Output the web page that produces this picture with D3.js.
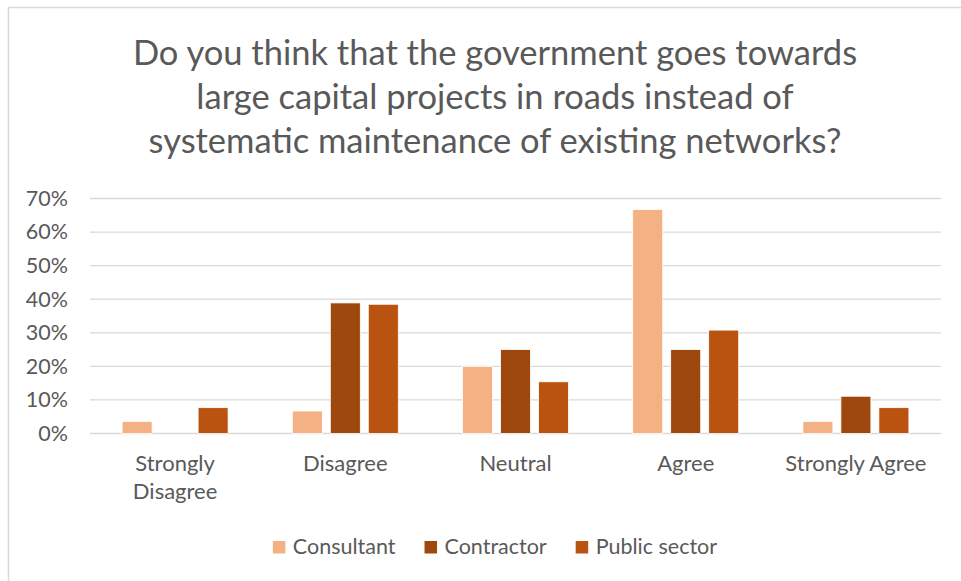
<!DOCTYPE html>
<html>
<head>
<meta charset="utf-8">
<script src="https://cdn.jsdelivr.net/npm/d3@7"></script>
<style>
  body { margin: 0; background: #fff; }
  text { font-family: Lato, "Open Sans", sans-serif; fill: #595959; }
</style>
</head>
<body>
<div id="chart"></div>
<script>
// data
var categories = ["Strongly Disagree", "Disagree", "Neutral", "Agree", "Strongly Agree"]
var series = ["Consultant", "Contractor", "Public sector"]
var consultant = [0.036, 0.067, 0.20, 0.667, 0.036]
var contractor = [0, 0.389, 0.25, 0.25, 0.111]
var publicSector = [0.077, 0.385, 0.154, 0.308, 0.077]
var yTicks = [0, 0.1, 0.2, 0.3, 0.4, 0.5, 0.6, 0.7]
var titleLines = ["Do you think that the government goes towards",
                  "large capital projects in roads instead of",
                  "systematic maintenance of existing networks?"]
var colors = ["#f4b183", "#9e480e", "#b9530f"]

var values = [consultant, contractor, publicSector]

var width = 961, height = 581
var margin = {left: 90, right: 20, top: 198.5, bottom: 147.5}

var svg = d3.select("#chart").append("svg")
  .attr("width", width)
  .attr("height", height)

// outer frame (only top and left edges show in the crop)
svg.append("path")
  .attr("d", "M8.5,581 V7.5 H961")
  .attr("fill", "none")
  .attr("stroke", "#d9d9d9")
  .attr("stroke-width", 1.5)

// title
svg.append("g").selectAll("text")
  .data(titleLines)
  .enter()
  .append("text")
  .attr("x", 495)
  .attr("y", function(d, i) { return 65 + i * 44 })
  .attr("text-anchor", "middle")
  .style("font-size", "34.5px")
  .text(function(d) { return d })

var x0 = d3.scaleBand()
  .domain(categories)
  .range([margin.left, width - margin.right])
  .padding(0)

var x1 = d3.scaleBand()
  .domain(series)
  .range([-53, 53])
  .paddingInner(0.21)
  .paddingOuter(0)

var y = d3.scaleLinear()
  .domain([0, 0.7])
  .range([height - margin.bottom, margin.top])

// gridlines
svg.append("g").selectAll("line")
  .data(yTicks)
  .enter()
  .append("line")
  .attr("x1", margin.left)
  .attr("x2", width - margin.right)
  .attr("y1", function(d) { return y(d) })
  .attr("y2", function(d) { return y(d) })
  .attr("stroke", "#d9d9d9")
  .attr("stroke-width", 1.3)

// y axis labels
var yAxis = d3.axisLeft(y)
  .tickValues(yTicks)
  .tickFormat(d3.format(".0%"))
  .tickSize(0)
  .tickPadding(22)

var yg = svg.append("g")
  .attr("transform", "translate(" + margin.left + ",0)")
  .call(yAxis)
yg.select(".domain").remove()
yg.selectAll("text")
  .style("font-size", "21.5px")
  .style("font-family", "Lato, 'Open Sans', sans-serif")
  .attr("fill", "#595959")

// bars
var groups = svg.append("g").selectAll("g")
  .data(categories)
  .enter()
  .append("g")
  .attr("transform", function(d) { return "translate(" + (x0(d) + x0.bandwidth() / 2) + ",0)" })

groups.selectAll("rect")
  .data(function(d, ci) {
    return series.map(function(s, si) { return {s: s, si: si, v: values[si][ci]} })
  })
  .enter()
  .append("rect")
  .filter(function(d) { return d.v > 0 })
  .attr("x", function(d) { return x1(d.s) })
  .attr("width", x1.bandwidth())
  .attr("y", function(d) { return y(d.v) })
  .attr("height", function(d) { return y(0) - y(d.v) })
  .attr("fill", function(d) { return colors[d.si] })
  .attr("stroke", "#fff")
  .attr("stroke-width", 0.8)

// category labels (wrapped like Excel does)
var xLabels = svg.append("g").selectAll("text")
  .data(categories)
  .enter()
  .append("text")
  .attr("x", function(d) { return x0(d) + x0.bandwidth() / 2 })
  .attr("y", 471)
  .attr("text-anchor", "middle")
  .style("font-size", "22px")

xLabels.each(function(d) {
  var parts = d == "Strongly Disagree" ? ["Strongly", "Disagree"] : [d]
  var t = d3.select(this)
  parts.forEach(function(p, i) {
    t.append("tspan")
      .attr("x", t.attr("x"))
      .attr("dy", i == 0 ? 0 : 28)
      .text(p)
  })
})

// legend
var legend = svg.append("g")
var lx = 0
series.forEach(function(s, i) {
  var item = legend.append("g").attr("transform", "translate(" + lx + ",0)")
  item.append("rect")
    .attr("x", 0).attr("y", -13)
    .attr("width", 12.5).attr("height", 12.5)
    .attr("fill", colors[i])
  var t = item.append("text")
    .attr("x", 20)
    .attr("y", 0)
    .style("font-size", "21.5px")
    .text(s)
  lx += 20 + t.node().getComputedTextLength() + 29
})
var lw = lx - 29
legend.attr("transform", "translate(" + (495 - lw / 2) + ",554)")
</script>
</body>
</html>
